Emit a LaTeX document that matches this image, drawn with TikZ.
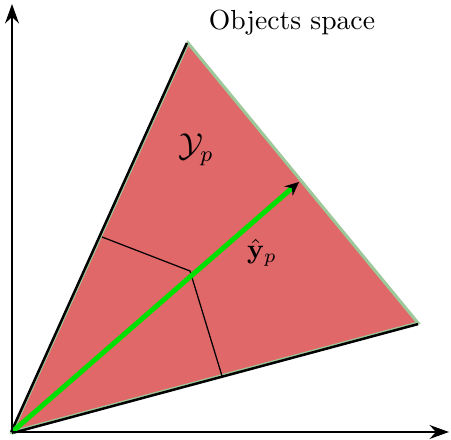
\documentclass[tikz,border=0pt]{standalone}
\usetikzlibrary{arrows.meta,calc}
\definecolor{regred}{HTML}{E06868}
\definecolor{edgegreen}{HTML}{9CC89A}
\definecolor{arrgreen}{HTML}{00E000}
\begin{document}
\begin{tikzpicture}[x=0.362pt,y=-0.362pt,
  axis/.style={line width=0.9pt,-{Stealth[length=7pt,width=5pt]}},
  edge/.style={line width=0.9pt},
  thin line/.style={line width=0.45pt}]
\useasboundingbox (0,0) rectangle (451,440);
\coordinate (O) at (12,432);
\coordinate (T) at (188,43);
\coordinate (R) at (418,323);
\coordinate (Yend) at (12,4);
\coordinate (Xend) at (449,432);
\coordinate (A) at (299,182);
\coordinate (F) at (190,271);
\coordinate (L) at (102,237);
\coordinate (B) at (222,376);
\fill[regred,draw=edgegreen,line width=1.1pt] (O) -- (T) -- (R) -- cycle;
\draw[edge] ([xshift=-0.3pt]O) -- ([xshift=-0.4pt]T);
\draw[edge] ([yshift=-0.4pt]O) -- ([yshift=-0.4pt]R);
\draw[thin line] (L) -- (F) -- (B);
\draw[line width=1.8pt,arrgreen,-{Stealth[black,length=5pt,width=4.5pt]}] (O) -- (A);
\draw[axis] (O) -- (Yend);
\draw[axis] (O) -- (Xend);
\node (lab) at (292,23) {Objects space};
\node (Yp) at (196,150) {\large$\mathcal{Y}_p$};
\node (yp) at (262,253) {$\hat{\mathbf{y}}_p$};
\end{tikzpicture}
\end{document}
